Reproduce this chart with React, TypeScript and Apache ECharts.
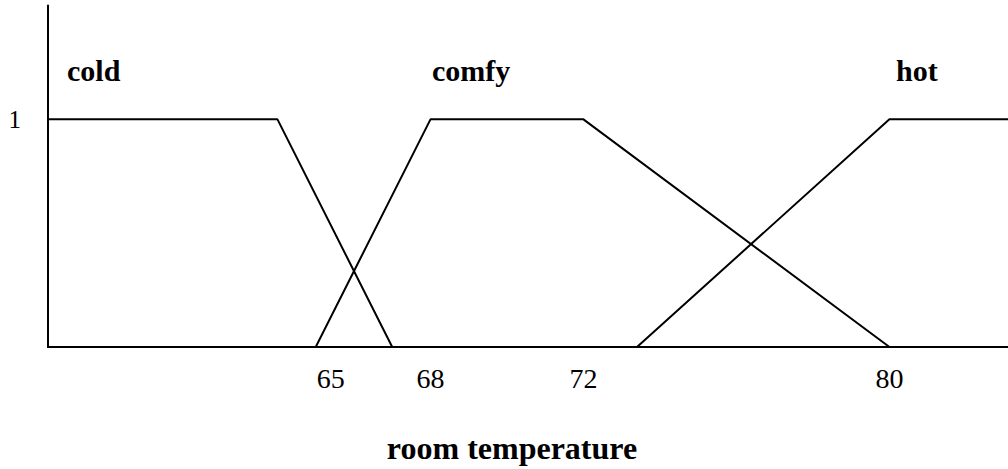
import React, { useEffect, useRef } from "react";
import * as echarts from "echarts";

// membership functions (x = room temperature, y = membership degree)
const coldPoints: [number, number][] = [[58, 1], [64, 1], [67, 0]];
const comfyPoints: [number, number][] = [[65, 0], [68, 1], [72, 1], [80, 0]];
const hotPoints: [number, number][] = [[73.4, 0], [80, 1], [83.1, 1]];
const xTicks = [65, 68, 72, 80];
const yTicks = [1];
const setNames = ["cold", "comfy", "hot"];
const axisTitle = "room temperature";

const FONT = "'Liberation Serif', 'DejaVu Serif', serif";

export default function App() {
  const ref = useRef<HTMLDivElement>(null);
  useEffect(() => {
    if (!ref.current) return;
    const chart = echarts.init(ref.current, undefined, { renderer: "svg" });
    const lineSeries = (name: string, data: [number, number][]) => ({
      name,
      type: "line",
      data,
      showSymbol: false,
      symbol: "none",
      lineStyle: { color: "#000", width: 2 },
      silent: true,
    });
    const labelPos = [
      [67, 85],
      [432, 85],
      [896, 85],
    ];
    chart.setOption({
      animation: false,
      backgroundColor: "#fff",
      grid: { left: 48, right: 0, top: 5.5, bottom: 117, containLabel: false },
      xAxis: {
        type: "value",
        min: 58,
        max: 83.1,
        name: axisTitle,
        nameLocation: "middle",
        nameGap: 85,
        nameTextStyle: {
          fontFamily: FONT,
          fontSize: 32,
          fontWeight: "bold",
          color: "#000",
          padding: [0, 32, 0, 0],
        },
        axisLine: { show: true, lineStyle: { color: "#000", width: 2 } },
        axisTick: { show: false },
        splitLine: { show: false },
        axisLabel: {
          customValues: xTicks,
          margin: 17,
          fontFamily: FONT,
          fontSize: 28,
          color: "#000",
          formatter: (v: number) => (v === 65 ? "{s|65}" : String(v)),
          rich: { s: { fontFamily: FONT, fontSize: 28, color: "#000", padding: [0, 0, 0, 30] } },
        },
      },
      yAxis: {
        type: "value",
        min: 0,
        max: 1.5,
        axisLine: { show: true, onZero: false, lineStyle: { color: "#000", width: 2 } },
        axisTick: { show: false },
        splitLine: { show: false },
        axisLabel: {
          customValues: yTicks,
          margin: 27,
          fontFamily: FONT,
          fontSize: 25,
          color: "#000",
          verticalAlign: "middle",
          padding: [0, 0, 12, 0],
        },
      },
      graphic: setNames.map((t, i) => ({
        type: "text",
        x: labelPos[i][0],
        y: labelPos[i][1],
        style: {
          text: t,
          font: `bold 30px ${FONT}`,
          fill: "#000",
          textAlign: "left",
          textVerticalAlign: "bottom",
        },
      })),
      series: [
        lineSeries("cold", coldPoints),
        lineSeries("comfy", comfyPoints),
        lineSeries("hot", hotPoints),
      ],
    });
    return () => chart.dispose();
  }, []);
  return (
    <div
      ref={ref}
      style={{ position: "absolute", left: 0, top: 0, width: 1008, height: 469 }}
    />
  );
}
